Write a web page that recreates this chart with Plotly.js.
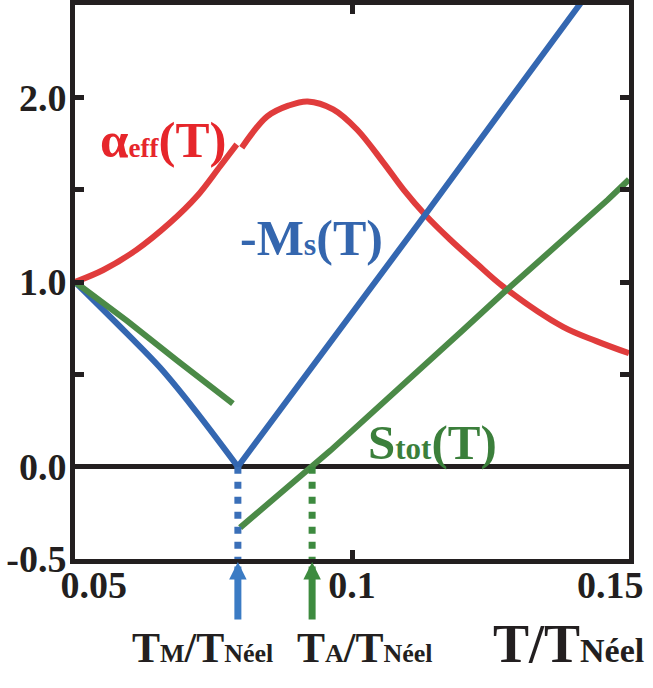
<!DOCTYPE html>
<html>
<head>
<meta charset="utf-8">
<script src="https://cdn.plot.ly/plotly-3.0.1.min.js"></script>
<style>
  body { margin: 0; background: #fff; }
  #chart { width: 653px; height: 688px; }
</style>
</head>
<body>
<div id="chart"></div>
<script>
// transition temperatures (T / T_Neel)
const tM = 0.0794
const tA = 0.0928

// alpha_eff(T), split at T_M
const alphaLowT = [0.05, 0.0551, 0.0611, 0.0671, 0.072, 0.0762, 0.0792]
const alphaLow = [1.0, 1.065, 1.174, 1.319, 1.464, 1.627, 1.745]
const alphaHighT = [0.0801, 0.0847, 0.0885, 0.092, 0.0966, 0.1009, 0.1057, 0.1093, 0.1132, 0.1177, 0.1225, 0.1273, 0.1381, 0.1441, 0.15]
const alphaHigh = [1.727, 1.897, 1.955, 1.978, 1.935, 1.826, 1.645, 1.5, 1.364, 1.23, 1.1, 0.975, 0.757, 0.68, 0.614]

// -Ms(T)
const msLowT = [0.05, 0.0594, 0.0653, 0.0713, tM]
const msLow = [1.0, 0.72, 0.538, 0.32, 0.0]
const msHighT = [tM, 0.1038, 0.1132, 0.1267, 0.1425]
const msHigh = [0.0, 0.975, 1.364, 1.917, 2.56]

// S_tot(T)
const stotLowT = [0.05, 0.0594, 0.0684, 0.0785]
const stotLow = [1.0, 0.79, 0.576, 0.342]
const stotHighT = [0.0798, tA, 0.0961, 0.12, 0.1273, 0.1462, 0.15]
const stotHigh = [-0.33, 0.0, 0.087, 0.739, 0.94, 1.446, 1.555]

// axes
const xTicks = [0.05, 0.1, 0.15]
const xTickText = ['0.05', '0.1', '0.15']
const xLabelPos = [0.0534, 0.1, 0.1466]
const yTicks = [-0.5, 0, 0.5, 1, 1.5, 2]
const yTickText = ['-0.5', '0.0', '', '1.0', '', '2.0']

const RED = '#e03c3c'
const BLUE = '#3467b1'
const GREEN = '#4b8a47'
const INK = '#231f20'
const FONT = 'Liberation Serif, Times New Roman, serif'

const line = (x, y, color, extra = {}, xaxis = 'x') => ({
  x, y, xaxis, type: 'scatter', mode: 'lines', hoverinfo: 'skip',
  line: { color, width: 6, ...extra },
})

const smooth = { shape: 'spline', smoothing: 1 }

const data = [
  line(alphaLowT, alphaLow, RED, smooth),
  line(alphaHighT, alphaHigh, RED, smooth),
  line(msLowT, msLow, BLUE, smooth),
  line(msHighT, msHigh, BLUE),
  line(stotLowT, stotLow, GREEN),
  line(stotHighT, stotHigh, GREEN),
  // dotted drops at T_M and T_A live on the label axis (same range)
  line([tM, tM], [0, -0.5], '#3a6fb8', { width: 7, dash: '7px,8px' }, 'x2'),
  line([tA, tA], [0, -0.5], '#3d8a3f', { width: 7, dash: '7px,8px' }, 'x2'),
]

const label = (text, x, y, color, size) => ({
  text, x, y, xref: 'x', yref: 'y', showarrow: false,
  xanchor: 'center', yanchor: 'middle',
  font: { family: FONT, size, color, weight: 'bold' },
})

const below = (text, x, y, size) => ({
  text, x, y, xref: 'x', yref: 'paper', showarrow: false,
  xanchor: 'center', yanchor: 'middle',
  font: { family: FONT, size, color: INK, weight: 'bold' },
})

const arrow = (x, color) => ({
  text: '', x, y: -0.5, xref: 'x', yref: 'y',
  showarrow: true, arrowhead: 2, arrowsize: 0.5, arrowwidth: 7, arrowcolor: color,
  ax: 0, ay: 62, standoff: 3,
})

const annotations = [
  label('α<span style="font-size:27px">eff</span>(T)', 0.0659, 1.77, '#e6262b', 51),
  label('-M<span style="font-size:32px">s</span>(T)', 0.0926, 1.24, '#3466ae', 50),
  label('S<span style="font-size:31px">tot</span>(T)', 0.1145, 0.13, '#3b7f3b', 49),
  arrow(tM, '#3b7bc4'),
  arrow(tA, '#3d8b3f'),
  below('T<span style="font-size:26px">M</span>/T<span style="font-size:26px">Néel</span>', 0.0731, -0.16, 42),
  below('T<span style="font-size:26px">A</span>/T<span style="font-size:26px">Néel</span>', 0.1023, -0.16, 42),
  below('T/T<span style="font-size:34px">Néel</span>', 0.139, -0.153, 54),
]

const frame = {
  showline: true, linewidth: 5, linecolor: INK, mirror: 'ticks',
  ticks: 'inside', ticklen: 9, tickwidth: 5, tickcolor: INK,
  showgrid: false, fixedrange: true,
}

const tickFont = { family: FONT, size: 38, color: INK, weight: 'bold' }

Plotly.newPlot('chart', data, {
  width: 653,
  height: 688,
  margin: { l: 75, r: 24, t: 5, b: 129 },
  showlegend: false,
  paper_bgcolor: '#fff',
  plot_bgcolor: '#fff',
  xaxis: { ...frame, range: [0.05, 0.15], tickvals: xTicks, showticklabels: false, zeroline: false },
  xaxis2: {
    overlaying: 'x', anchor: 'y', side: 'bottom', range: [0.05, 0.15],
    tickvals: xLabelPos, ticktext: xTickText, ticks: '', showline: false,
    showgrid: false, zeroline: false, tickfont: tickFont, fixedrange: true,
  },
  yaxis: {
    ...frame, range: [-0.5, 2.5], tickvals: yTicks, ticktext: yTickText, tickfont: tickFont,
    ticklabelstandoff: -4, zeroline: true, zerolinewidth: 5, zerolinecolor: INK,
  },
  annotations,
}, { staticPlot: true })
</script>
</body>
</html>
